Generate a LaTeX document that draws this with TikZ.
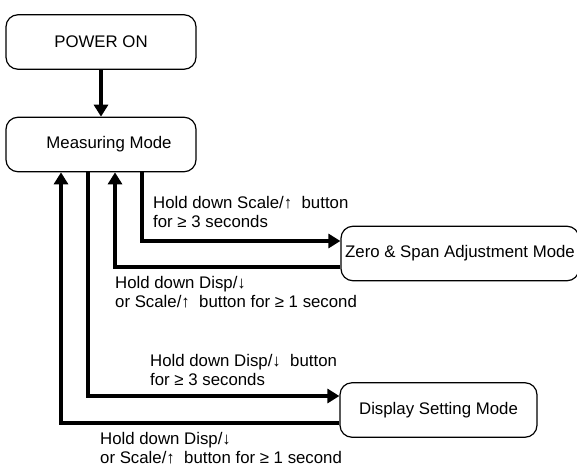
\documentclass[tikz,border=0pt]{standalone}
\usepackage{fontspec}
\setmainfont{Liberation Sans}
\usetikzlibrary{arrows.meta}

\tikzset{
  modebox/.style={draw, rounded corners=12pt, line width=1.2pt, minimum height=54.5pt, align=center, font=\fontsize{16.8}{19}\selectfont},
  flow/.style={line width=4pt, -{Triangle[length=12pt,width=14pt]}},
  note/.style={anchor=north west, inner sep=0pt, align=left, font=\fontsize{16.8}{18.5}\selectfont}
}

\begin{document}
\begin{tikzpicture}[x=1pt,y=-1pt]
\useasboundingbox (0,0) rectangle (577,463);

\node[modebox, minimum width=190pt] (power) at (101,42) {POWER ON};
\node[modebox, minimum width=190pt] (meas) at (101,144.5) {\hspace*{16pt}Measuring Mode};
\node[modebox, minimum width=238pt, inner xsep=2pt] (zero) at (460,253.5) {Zero \& Span Adjustment Mode};
\node[modebox, minimum width=197pt] (disp) at (438.5,410) {Display Setting Mode};

\draw[flow] (power) -- (meas);

\draw[flow] ([xshift=41pt]meas.south) |- ([yshift=12.5pt]zero.west);
\draw[flow] ([yshift=-13.5pt]zero.west) -| ([xshift=14pt]meas.south);

\draw[flow] ([xshift=-13pt]meas.south) |- ([yshift=14pt]disp.west);
\draw[flow] ([yshift=-13pt]disp.west) -| ([xshift=-40pt]meas.south);

\node[note] (zeroin) at (153,196.5) {Hold down Scale/↑\ \ button\\for ≥ 3 seconds};
\node[note] (zeroout) at (115,276.5) {Hold down Disp/↓\\or Scale/↑\ \ button for ≥ 1 second};
\node[note] (dispin) at (150,354.5) {Hold down Disp/↓\ \ button\\for ≥ 3 seconds};
\node[note] (dispout) at (100,432.5) {Hold down Disp/↓\\or Scale/↑\ \ button for ≥ 1 second};

\end{tikzpicture}
\end{document}
